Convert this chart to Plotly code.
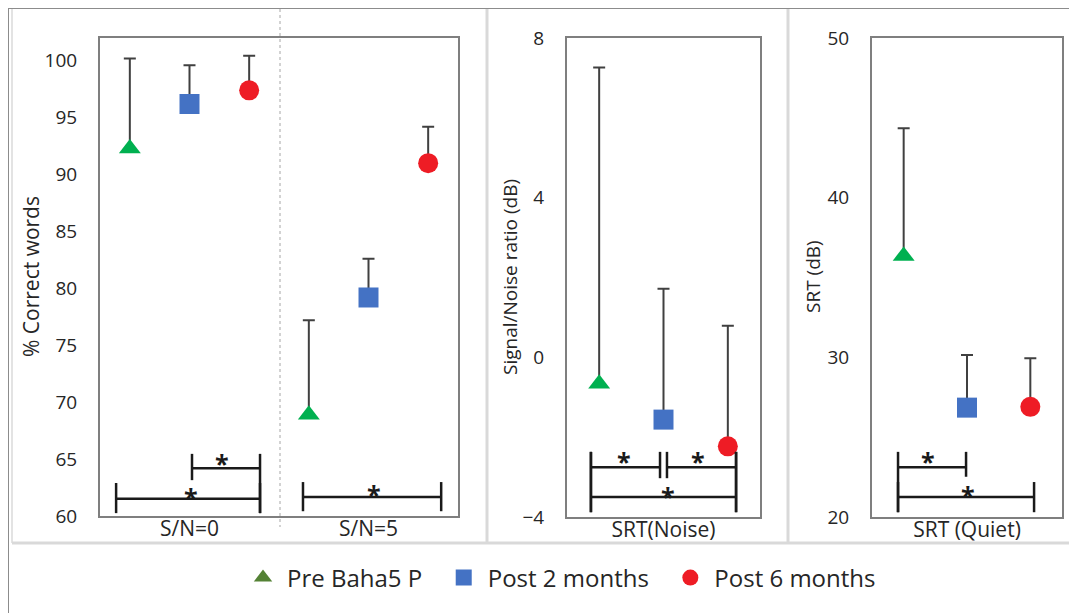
import plotly.graph_objects as go

# ---------------- data ----------------
series_names = ["Pre Baha5 P", "Post 2 months", "Post 6 months"]

words_categories = ["S/N=0", "S/N=5"]
words_pre = [92.3, 68.9]
words_pre_err = [7.9, 8.3]
words_post2 = [96.2, 79.2]
words_post2_err = [3.4, 3.4]
words_post6 = [97.4, 91.0]
words_post6_err = [3.05, 3.2]

noise_categories = ["SRT(Noise)"]
noise_pre = [-0.66]
noise_pre_err = [7.92]
noise_post2 = [-1.56]
noise_post2_err = [3.28]
noise_post6 = [-2.23]
noise_post6_err = [3.02]

quiet_categories = ["SRT (Quiet)"]
quiet_pre = [36.35]
quiet_pre_err = [8.0]
quiet_post2 = [26.85]
quiet_post2_err = [3.3]
quiet_post6 = [26.9]
quiet_post6_err = [3.05]

words_ticks = [60, 65, 70, 75, 80, 85, 90, 95, 100]
noise_ticks = [-4, 0, 4, 8]
quiet_ticks = [20, 30, 40, 50]

# ---------------- style ----------------
OFF = 8                      # page body margin
W, H = 1077 - OFF, 613 - OFF
FONT = "Open Sans"
colors = ["#00B050", "#4472C4", "#EE1C25"]
legend_colors = ["#548235", "#4472C4", "#EE1C25"]
symbols = ["triangle-up", "square", "circle"]
sizes = [19, 20, 20]
offsets = [-1 / 3, 0.0, 1 / 3]
ERR_COLOR = "#404040"
BOX_COLOR = "#7f7f7f"
PAD = "\u00a0\u00a0"


def px_x(p):
    return (p - OFF) / W


def px_y(p):
    return 1 - (p - OFF) / H


fig = go.Figure()

panels = [
    ("x", "y", words_categories,
     [(words_pre, words_pre_err), (words_post2, words_post2_err), (words_post6, words_post6_err)]),
    ("x2", "y2", noise_categories,
     [(noise_pre, noise_pre_err), (noise_post2, noise_post2_err), (noise_post6, noise_post6_err)]),
    ("x3", "y3", quiet_categories,
     [(quiet_pre, quiet_pre_err), (quiet_post2, quiet_post2_err), (quiet_post6, quiet_post6_err)]),
]

for xa, ya, cats, series in panels:
    for i, (vals, errs) in enumerate(series):
        xs = [k + offsets[i] for k in range(len(cats))]
        fig.add_trace(go.Scatter(
            x=xs, y=vals, xaxis=xa, yaxis=ya, mode="markers",
            name=series_names[i], showlegend=False,
            marker=dict(symbol=symbols[i], size=sizes[i], color=colors[i]),
            error_y=dict(type="data", symmetric=False, array=errs,
                         arrayminus=[0] * len(errs), color=ERR_COLOR,
                         thickness=2, width=6),
        ))

# legend entries
for i in range(3):
    fig.add_trace(go.Scatter(
        x=[None], y=[None], xaxis="x", yaxis="y", mode="markers",
        name=series_names[i] + (PAD if i < 2 else ""), showlegend=True,
        marker=dict(symbol=symbols[i], size=16, color=legend_colors[i]),
    ))

# box geometry (reference pixels)
boxes = {
    "1": (100, 458, 38, 516),
    "2": (567, 760, 38, 517),
    "3": (872, 1062, 38, 517),
}

tickfont = dict(family=FONT, size=19, color="#262626")
catfont = dict(family=FONT, size=21, color="#262626")


def xaxis_cfg(box, cats):
    l, r, t, b = box
    return dict(domain=[px_x(l), px_x(r)], range=[-0.5, len(cats) - 0.5],
                tickvals=list(range(len(cats))), ticktext=cats,
                showgrid=False, zeroline=False, showline=True, mirror=True,
                linecolor=BOX_COLOR, linewidth=2, ticks="",
                tickfont=catfont, ticklabelstandoff=-7, fixedrange=True,
                automargin=False)


def yaxis_cfg(box, rng, ticks, anchor):
    l, r, t, b = box
    return dict(domain=[px_y(b), px_y(t)], range=rng, tickvals=ticks,
                showgrid=False, zeroline=False, showline=True, mirror=True,
                linecolor=BOX_COLOR, linewidth=2, ticks="",
                tickfont=tickfont, ticklabelstandoff=17, anchor=anchor,
                fixedrange=True, automargin=False)


fig.update_layout(
    width=W, height=H,
    margin=dict(l=0, r=0, t=0, b=0, pad=0, autoexpand=False),
    paper_bgcolor="white", plot_bgcolor="white",
    font=dict(family=FONT, color="#262626"),
    xaxis=xaxis_cfg(boxes["1"], words_categories) | dict(anchor="y"),
    yaxis=yaxis_cfg(boxes["1"], [60, 102], words_ticks, "x"),
    xaxis2=xaxis_cfg(boxes["2"], noise_categories) | dict(anchor="y2"),
    yaxis2=yaxis_cfg(boxes["2"], [-4, 8], noise_ticks, "x2"),
    xaxis3=xaxis_cfg(boxes["3"], quiet_categories) | dict(anchor="y3"),
    yaxis3=yaxis_cfg(boxes["3"], [20, 50], quiet_ticks, "x3"),
    legend=dict(orientation="h", x=px_x(560), xanchor="center", y=px_y(578),
                yanchor="middle", font=dict(family=FONT, size=24, color="#262626"),
                bgcolor="rgba(0,0,0,0)", itemwidth=38),
    showlegend=True,
)

shapes = []


def pline(x0, y0, x1, y1, color, width, dash="solid"):
    shapes.append(dict(type="line", xref="paper", yref="paper",
                       x0=px_x(x0), y0=px_y(y0), x1=px_x(x1), y1=px_y(y1),
                       line=dict(color=color, width=width, dash=dash), layer="below"))


pline(8, 8, 1077, 8, "#8c8c8c", 2)
pline(8, 8, 8, 613, "#8c8c8c", 2)
pline(12, 9, 12, 543, "#e3e3e3", 2)
pline(12, 543, 1077, 543, "#d9d9d9", 3)
pline(487, 9, 487, 543, "#d9d9d9", 3)
pline(788, 9, 788, 543, "#d9d9d9", 3)
pline(280, 9, 280, 527, "#a6a6a6", 1, "dot")

# significance brackets in axis-domain fractions
brackets = {
    "": [
        (0.257, 0.447, 0.100, (0.130, 0.075), (0.130, 0.006)),
        (0.045, 0.447, 0.036, (0.069, 0.006), (0.069, 0.006)),
        (0.567, 0.953, 0.040, (0.071, 0.010), (0.071, 0.010)),
    ],
    "2": [
        (0.124, 0.482, 0.104, (0.136, 0.010), (0.136, 0.081)),
        (0.518, 0.876, 0.104, (0.136, 0.081), (0.136, 0.010)),
        (0.124, 0.876, 0.042, (0.136, 0.010), (0.136, 0.010)),
    ],
    "3": [
        (0.137, 0.495, 0.104, (0.136, 0.010), (0.136, 0.084)),
        (0.137, 0.853, 0.042, (0.073, 0.010), (0.073, 0.010)),
    ],
}
stars = {
    "": [(0.341, 0.123), (0.254, 0.052), (0.765, 0.059)],
    "2": [(0.295, 0.129), (0.679, 0.129), (0.523, 0.056)],
    "3": [(0.295, 0.129), (0.505, 0.058)],
}
annotations = []
for ax, blist in brackets.items():
    xr, yr = f"x{ax} domain", f"y{ax} domain"
    for x0, x1, y, (lt, lb), (rt, rb) in blist:
        for seg in [(x0, y, x1, y), (x0, lt, x0, lb), (x1, rt, x1, rb)]:
            shapes.append(dict(type="line", xref=xr, yref=yr,
                               x0=seg[0], y0=seg[1], x1=seg[2], y1=seg[3],
                               line=dict(color="#1a1a1a", width=2.5)))
    for sx, sy in stars[ax]:
        annotations.append(dict(xref=xr, yref=yr, x=sx, y=sy, text="<b>*</b>",
                                showarrow=False, xanchor="center", yanchor="middle",
                                yshift=-6, font=dict(family=FONT, size=25, color="#1a1a1a")))

# axis titles
for text, xpx, fs in [("% Correct words", 31, 21), ("Signal/Noise ratio (dB)", 510, 19),
                      ("SRT (dB)", 813, 19)]:
    annotations.append(dict(xref="paper", yref="paper", x=px_x(xpx), y=px_y(277),
                            text=text, textangle=-90, showarrow=False,
                            xanchor="center", yanchor="middle",
                            font=dict(family=FONT, size=fs, color="#262626")))

fig.update_layout(shapes=shapes, annotations=annotations)
fig.write_html("out.html")
